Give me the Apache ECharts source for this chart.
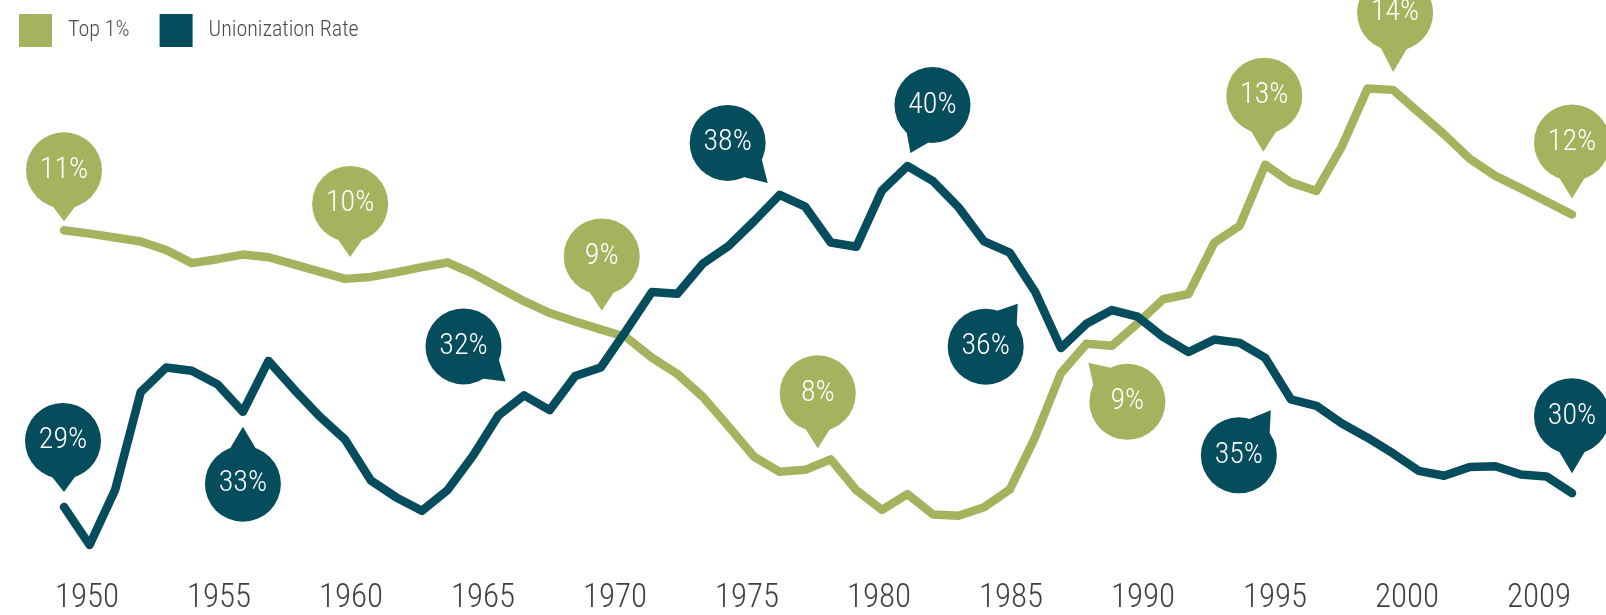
<!DOCTYPE html>
<html>
<head>
<meta charset="utf-8">
<title>Top 1% vs Unionization Rate</title>
<script src="https://cdn.jsdelivr.net/npm/echarts@6.0.0/dist/echarts.min.js"></script>
<style>
  html, body { margin: 0; padding: 0; background: #ffffff; }
  #main { width: 1606px; height: 615px; }
</style>
</head>
<body>
<div id="main"></div>
<script>
// yearly points behind the two lines
const years = ['1949', '1950', '1951', '1952', '1953', '1954', '1955', '1956', '1957', '1958',
  '1959', '1960', '1961', '1962', '1963', '1964', '1965', '1966', '1967', '1968',
  '1969', '1970', '1971', '1972', '1973', '1974', '1975', '1976', '1977', '1978',
  '1979', '1980', '1981', '1982', '1983', '1984', '1985', '1986', '1987', '1988',
  '1989', '1990', '1991', '1992', '1993', '1994', '1995', '1996', '1997', '1998',
  '1999', '2000', '2001', '2002', '2003', '2004', '2005', '2006', '2007', '2008'];

// share of income, top 1% (percent)
const top1 = [11.60, 11.55, 11.49, 11.43, 11.30, 11.10, 11.16, 11.23, 11.19, 11.08,
  10.97, 10.86, 10.89, 10.96, 11.04, 11.11, 10.94, 10.73, 10.52, 10.34,
  10.21, 10.09, 9.97, 9.66, 9.41, 9.06, 8.61, 8.15, 7.92, 7.95,
  8.11, 7.64, 7.34, 7.58, 7.27, 7.25, 7.38, 7.65, 8.45, 9.42,
  9.87, 9.84, 10.18, 10.55, 10.63, 11.41, 11.67, 12.60, 12.33, 12.20,
  12.88, 13.76, 13.74, 13.40, 13.06, 12.69, 12.43, 12.24, 12.04, 11.84];

// unionization rate (percent)
const union = [29.77, 28.61, 30.29, 33.27, 34.02, 33.92, 33.51, 32.67, 34.22, 33.35,
  32.53, 31.82, 30.58, 30.06, 29.65, 30.28, 31.33, 32.56, 33.17, 32.72,
  33.76, 34.02, 35.15, 36.32, 36.27, 37.19, 37.72, 38.48, 39.28, 38.92,
  37.83, 37.70, 39.41, 40.16, 39.70, 38.90, 37.86, 37.52, 36.32, 34.61,
  35.35, 35.77, 35.57, 34.95, 34.49, 34.87, 34.77, 34.31, 33.05, 32.85,
  32.31, 31.88, 31.40, 30.87, 30.72, 30.99, 31.01, 30.76, 30.70, 30.19];

// labels printed under the chart
const tickLabels = ['1950', '1955', '1960', '1965', '1970', '1975', '1980', '1985', '1990', '1995', '2000', '2009'];

// bubble texts and the point each one is hung on
const top1NoteText = ['11%', '10%', '9%', '8%', '9%', '13%', '14%', '12%'];
const top1NoteAt = [0, 11, 21, 30, 40, 47, 52, 59];
const unionNoteText = ['29%', '33%', '32%', '38%', '40%', '36%', '35%', '30%'];
const unionNoteAt = [0, 7, 17, 28, 33, 37, 48, 59];

// bubble placement in px: circle centre and tail tip, relative to the point
const top1NoteLayout = [
  {c: [0, -60], tip: [0, -9]},
  {c: [5, -75], tip: [5, -22]},
  {c: [1, -73], tip: [1, -19]},
  {c: [-13, -66], tip: [-13, -11]},
  {c: [41, 58], tip: [2, 19]},
  {c: [-1, -69], tip: [-2, -13]},
  {c: [2, -77], tip: [0, -18]},
  {c: [0, -72], tip: [0, -16]}
];
const unionNoteLayout = [
  {c: [-1, -66], tip: [0, -15]},
  {c: [0, 72], tip: [0, 15]},
  {c: [-35, -69], tip: [7, -34]},
  {c: [-52, -52], tip: [-12, -12]},
  {c: [25, -61], tip: [3, -13]},
  {c: [-24, 94], tip: [8, 51]},
  {c: [-52, 56], tip: [-20, 11]},
  {c: [0, -77], tip: [0, -20]}
];

const GREEN = '#a3b35e';
const TEAL = '#054c5c';
const R = 38;
const FONT = "'Roboto Condensed', Roboto, sans-serif";

function bubbles(texts, at, layout, values, color) {
  let out = [];
  for (let k = 0; k < texts.length; k++) {
    let i = at[k];
    let c = layout[k].c;
    let tip = layout[k].tip;
    let coord = [years[i], values[i]];
    // tail: triangle pointing from the circle to the tip
    let dx = tip[0] - c[0], dy = tip[1] - c[1];
    let L = Math.sqrt(dx * dx + dy * dy);
    let h = L - R + 8;
    let ux = dx / L, uy = dy / L;
    out.push({
      coord: coord,
      symbol: 'triangle',
      symbolSize: [32, h],
      symbolRotate: Math.atan2(-dy, dx) * 180 / Math.PI - 90,
      symbolOffset: [c[0] + ux * (L - h / 2), c[1] + uy * (L - h / 2)],
      itemStyle: {color: color},
      label: {show: false}
    });
    out.push({
      coord: coord,
      symbol: 'circle',
      symbolSize: R * 2,
      symbolOffset: c,
      itemStyle: {color: color},
      label: {
        show: true,
        position: 'inside',
        formatter: texts[k],
        color: '#ffffff',
        fontSize: 30,
        fontWeight: 300,
        fontFamily: FONT
      }
    });
  }
  return out;
}

let myChart = echarts.init(document.getElementById('main'));
let option = {
  animation: false,
  backgroundColor: '#ffffff',
  legend: {
    data: ['Top 1%', 'Unionization Rate'],
    left: 14,
    top: 9,
    icon: 'rect',
    itemWidth: 33,
    itemHeight: 33,
    itemGap: 30,
    textStyle: {
      fontSize: 22,
      fontWeight: 300,
      color: '#4a4a4a',
      fontFamily: FONT,
      padding: [0, 0, 0, 11]
    }
  },
  grid: [
    {left: 64, right: 34, top: 40, height: 525},
    {left: 87, right: 67, top: 560, height: 10}
  ],
  xAxis: [
    {gridIndex: 0, type: 'category', data: years, boundaryGap: false, show: false},
    {
      gridIndex: 1,
      type: 'category',
      data: tickLabels,
      boundaryGap: false,
      axisLine: {show: false},
      axisTick: {show: false},
      splitLine: {show: false},
      axisLabel: {
        interval: 0,
        margin: 18,
        fontSize: 33,
        fontWeight: 300,
        color: '#404040',
        fontFamily: FONT
      }
    }
  ],
  yAxis: [
    {gridIndex: 0, type: 'value', min: 6.5, max: 14.5, show: false},
    {gridIndex: 0, type: 'value', min: 28, max: 44, show: false},
    {gridIndex: 1, type: 'value', show: false}
  ],
  series: [
    {
      name: 'Top 1%',
      type: 'line',
      xAxisIndex: 0,
      yAxisIndex: 0,
      data: top1,
      symbol: 'none',
      clip: false,
      itemStyle: {color: GREEN},
      lineStyle: {width: 8.5, color: GREEN, cap: 'round', join: 'round'},
      markPoint: {
        silent: true,
        data: bubbles(top1NoteText, top1NoteAt, top1NoteLayout, top1, GREEN)
      }
    },
    {
      name: 'Unionization Rate',
      type: 'line',
      xAxisIndex: 0,
      yAxisIndex: 1,
      data: union,
      symbol: 'none',
      clip: false,
      itemStyle: {color: TEAL},
      lineStyle: {width: 8.5, color: TEAL, cap: 'round', join: 'round'},
      markPoint: {
        silent: true,
        data: bubbles(unionNoteText, unionNoteAt, unionNoteLayout, union, TEAL)
      }
    }
  ]
};
myChart.setOption(option);
window.onresize = function () {
  myChart.resize();
};
</script>
</body>
</html>
